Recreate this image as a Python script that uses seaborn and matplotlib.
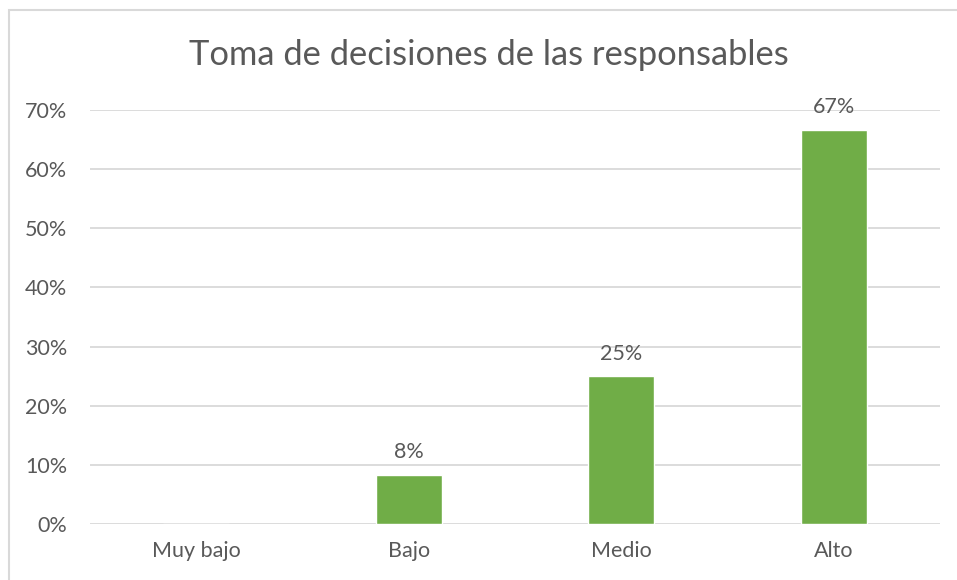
import pandas as pd
import matplotlib.pyplot as plt
import matplotlib.patches as mpatches
from matplotlib.ticker import PercentFormatter
import seaborn as sns

# === DATA ===
categories = ["Muy bajo", "Bajo", "Medio", "Alto"]
values = [0.0, 0.0833, 0.25, 0.6667]
labels = ["", "8%", "25%", "67%"]

df = pd.DataFrame({"Nivel": categories, "Porcentaje": values})

sns.set_style("white")
plt.rcParams["font.family"] = ["Lato", "DejaVu Sans"]

TEXT = "#595959"
GRID = "#D9D9D9"
GREEN = "#70AD47"

fig = plt.figure(figsize=(9.57, 5.8), dpi=100)
ax = fig.add_axes([90 / 957, 56 / 580, 850 / 957, 414 / 580])

sns.barplot(data=df, x="Nivel", y="Porcentaje", color=GREEN, width=0.31,
            saturation=1, ax=ax)

ax.set_ylim(0, 0.7)
ax.set_yticks([i / 10 for i in range(8)])
ax.yaxis.set_major_formatter(PercentFormatter(1.0, decimals=0))
ax.grid(axis="y", color=GRID, linewidth=1.3)
ax.set_axisbelow(True)
for s in ax.spines.values():
    s.set_visible(False)
ax.set_xlabel("")
ax.set_ylabel("")
ax.tick_params(axis="both", length=0, labelsize=15.5, colors=TEXT)
ax.tick_params(axis="x", pad=12)
ax.tick_params(axis="y", pad=16.5)

ax.bar_label(ax.containers[0], labels=labels, padding=9, fontsize=15.5, color=TEXT)

fig.text(0.511, 0.905, "Toma de decisiones de las responsables", ha="center",
         va="center", fontsize=24.8, color=TEXT)

# chart frame
fig.patches.append(mpatches.Rectangle((9 / 957, -0.1), 1.2, (570 / 580) + 0.1,
                                      transform=fig.transFigure, fill=False,
                                      edgecolor=GRID, linewidth=1.5))

fig.savefig("out.png", dpi=100)
